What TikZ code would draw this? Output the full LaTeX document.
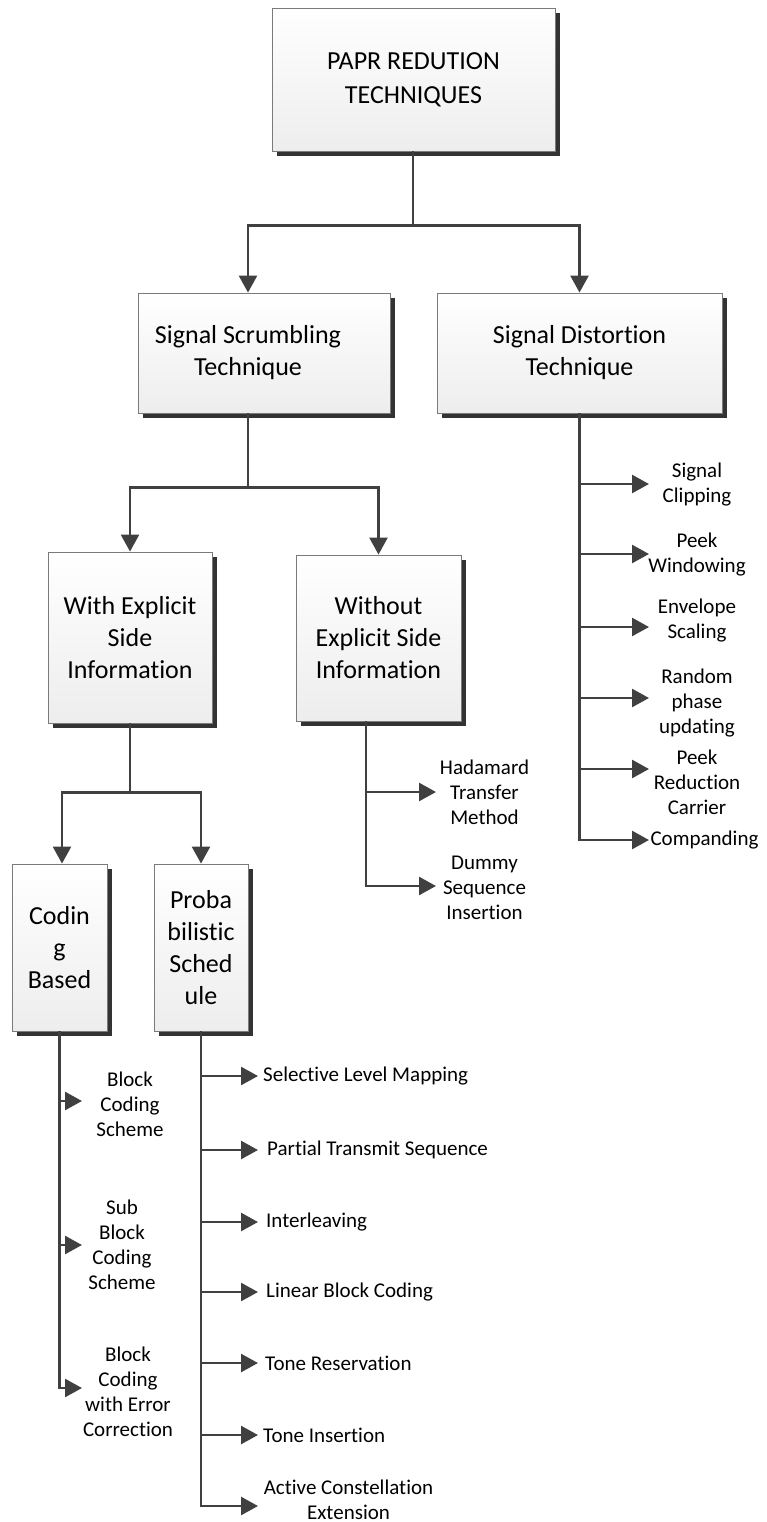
\documentclass[tikz,border=0pt]{standalone}
\usepackage{fontspec}
\setmainfont{Carlito}[Ligatures=NoCommon]
\usetikzlibrary{arrows.meta,shadows,calc}
\definecolor{ink}{HTML}{404040}
\definecolor{rim}{HTML}{7A7A7A}
\begin{document}
\begin{tikzpicture}[x=1pt,y=-1pt,
  box/.style={draw=rim,line width=0.9pt,top color=white,bottom color=black!7,
    drop shadow={shadow xshift=5pt,shadow yshift=-5pt,fill=black!80,opacity=1},
    inner sep=0pt,align=center,font=\fontsize{26}{32}\selectfont},
  boxtext/.style={inner sep=0pt,align=center,font=\fontsize{26}{32}\selectfont},
  leaf/.style={font=\fontsize{21}{25}\selectfont,align=center,inner sep=0pt},
  link/.style={draw=ink,line width=2.6pt},
  arr/.style={link,-{Triangle[length=17pt,width=18pt]}},
]
\useasboundingbox (0,0) rectangle (767,1522);

% ---------- boxes ----------
\node[box,minimum width=283pt,minimum height=143pt,font=\fontsize{26}{34}\selectfont]
  (top) at (413.5,79.5) {PAPR REDUTION\\TECHNIQUES};
\node[box,minimum width=252pt,minimum height=120pt] (scr) at (264,353) {};
\node[boxtext] (scrt) at (248,352.5) {Signal Scrumbling\\Technique};
\node[box,minimum width=285pt,minimum height=120pt] (dist) at (579.5,353)
  {Signal Distortion\\Technique};
\node[box,minimum width=164pt,minimum height=171pt] (with) at (130,637.5)
  {With Explicit\\Side\\Information};
\node[box,minimum width=165pt,minimum height=166pt] (wo) at (378.5,638)
  {Without\\Explicit Side\\Information};
\node[box,minimum width=95pt,minimum height=167pt] (coding) at (59.5,947.5)
  {Codin\\g\\Based};
\node[box,minimum width=94pt,minimum height=167pt] (prob) at (201,947.5)
  {Proba\\bilistic\\Sched\\ule};

% ---------- tree connectors ----------
\coordinate (j1) at ($(top.south)+(-0.5,74)$);
\draw[link] (top.south -| j1) -- (j1);
\draw[arr] (j1) -| ([xshift=-16pt]scr.north);
\draw[arr] (j1) -| (dist.north);

\coordinate (j2) at ($(scr.south)+(-16,74)$);
\draw[link] ([xshift=-16pt]scr.south) -- (j2);
\draw[arr] (j2) -| (with.north);
\draw[arr] (j2) -| (wo.north);

\coordinate (j3) at ($(with.south)+(0,69)$);
\draw[link] (with.south) -- (j3);
\draw[arr] (j3) -| ([xshift=2.5pt]coding.north);
\draw[arr] (j3) -| (prob.north);

% ---------- signal distortion leaves ----------
\coordinate (dt1) at (649,484);
\coordinate (dt2) at (649,554);
\coordinate (dt3) at (649,627);
\coordinate (dt4) at (649,698);
\coordinate (dt5) at (649,769);
\coordinate (dt6) at (649,840);
\draw[arr] (dist.south) |- (dt6);
\foreach \t in {dt1,dt2,dt3,dt4,dt5} \draw[arr] (\t -| dist.south) -- (\t);
\node[leaf] (d1) at (697,484.5) {Signal\\Clipping};
\node[leaf] (d2) at (697,555) {Peek\\Windowing};
\node[leaf] (d3) at (697,620.5) {Envelope\\Scaling};
\node[leaf] (d4) at (697,703) {Random\\phase\\updating};
\node[leaf] (d5) at (697,782) {Peek\\Reduction\\Carrier};
\node[leaf] (d6) at (704.5,840) {Companding};

% ---------- without explicit side information leaves ----------
\coordinate (wtop) at ([xshift=-12.5pt]wo.south);
\coordinate (wt1) at (436,792);
\coordinate (wt2) at (436,886);
\draw[arr] (wtop) |- (wt2);
\draw[arr] (wt1 -| wtop) -- (wt1);
\node[leaf] (w1) at (484.5,792) {Hadamard\\Transfer\\Method};
\node[leaf] (w2) at (484.5,888) {Dummy\\Sequence\\Insertion};

% ---------- coding based leaves ----------
\coordinate (ct1) at (82,1101);
\coordinate (ct2) at (82,1245);
\coordinate (ct3) at (82,1388);
\draw[arr] (coding.south) |- (ct3);
\foreach \t in {ct1,ct2} \draw[arr] (\t -| coding.south) -- (\t);
\node[leaf] (c1) at (130,1104) {Block\\Coding\\Scheme};
\node[leaf] (c2) at (122,1244.5) {Sub\\Block\\Coding\\Scheme};
\node[leaf] (c3) at (128,1392) {Block\\Coding\\with Error\\Correction};

% ---------- probabilistic schedule leaves ----------
\coordinate (pt1) at (258,1076);
\coordinate (pt2) at (258,1150);
\coordinate (pt3) at (258,1222);
\coordinate (pt4) at (258,1292);
\coordinate (pt5) at (258,1363);
\coordinate (pt6) at (258,1435);
\coordinate (pt7) at (258,1506);
\draw[arr] (prob.south) |- (pt7);
\foreach \t in {pt1,pt2,pt3,pt4,pt5,pt6} \draw[arr] (\t -| prob.south) -- (\t);
\node[leaf,anchor=west] (p1) at (263,1076) {Selective Level Mapping};
\node[leaf,anchor=west] (p2) at (267,1150) {Partial Transmit Sequence};
\node[leaf,anchor=west] (p3) at (266,1222) {Interleaving};
\node[leaf,anchor=west] (p4) at (266,1292) {Linear Block Coding};
\node[leaf,anchor=west] (p5) at (265,1363) {Tone Reservation};
\node[leaf,anchor=west] (p6) at (263,1435) {Tone Insertion};
\node[leaf] (p7) at (348.5,1499.5) {Active Constellation\\Extension};
\end{tikzpicture}
\end{document}
